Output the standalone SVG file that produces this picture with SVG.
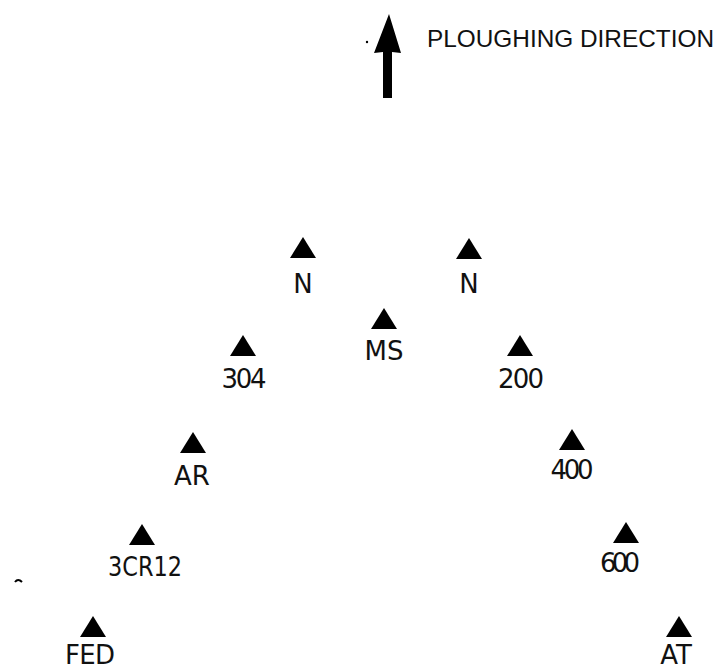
<svg xmlns="http://www.w3.org/2000/svg" width="725" height="671" viewBox="0 0 725 671">
<defs>
<style>
.lbl{font-family:"DejaVu Sans","Liberation Sans",sans-serif;font-size:26px;fill:#111;text-anchor:middle}
.hdr{font-family:"Liberation Sans",Arial,sans-serif;font-size:24.5px;fill:#111}
.tri{fill:#000}
</style>
<path id="t" class="tri" d="M-13,21 L0,0 L13,21 Z"/>
</defs>
<rect width="725" height="671" fill="#fff"/>
<g id="direction">
<path d="M383,98 L383,52 L374,53 L389,14 L401,53 L392,52 L392,98 Z" fill="#000"/>
<circle cx="367" cy="42" r="1.2" fill="#000"/>
<text x="427" y="47" class="hdr" textLength="287" lengthAdjust="spacingAndGlyphs">PLOUGHING DIRECTION</text>
</g>
<g id="connectors"></g>
<g id="n-left"><use href="#t" x="303" y="237"/><text class="lbl" x="303" y="293">N</text></g>
<g id="n-right"><use href="#t" x="469" y="238"/><text class="lbl" x="469" y="293">N</text></g>
<g id="ms"><use href="#t" x="384" y="308"/><text class="lbl" x="384" y="360">MS</text></g>
<g id="s304"><use href="#t" x="243" y="335"/><text class="lbl" x="244" y="388" textLength="45">304</text></g>
<g id="s200"><use href="#t" x="520" y="335"/><text class="lbl" x="521" y="388" textLength="46">200</text></g>
<g id="ar"><use href="#t" x="193" y="432"/><text class="lbl" x="192" y="485">AR</text></g>
<g id="s400"><use href="#t" x="572" y="429"/><text class="lbl" x="572" y="479" textLength="43">400</text></g>
<g id="cr12"><use href="#t" x="142" y="524"/><text class="lbl" x="145" y="576" textLength="74" lengthAdjust="spacingAndGlyphs">3CR12</text></g>
<g id="s600"><use href="#t" x="626" y="522"/><text class="lbl" x="620" y="572" textLength="40">600</text></g>
<g id="fed"><use href="#t" x="93" y="616"/><text class="lbl" x="90" y="664" textLength="50">FED</text></g>
<g id="at"><use href="#t" x="679" y="616"/><text class="lbl" x="676" y="664">AT</text></g>
<path d="M15,582 Q18,578 22,582" fill="none" stroke="#000" stroke-width="2"/>
</svg>
